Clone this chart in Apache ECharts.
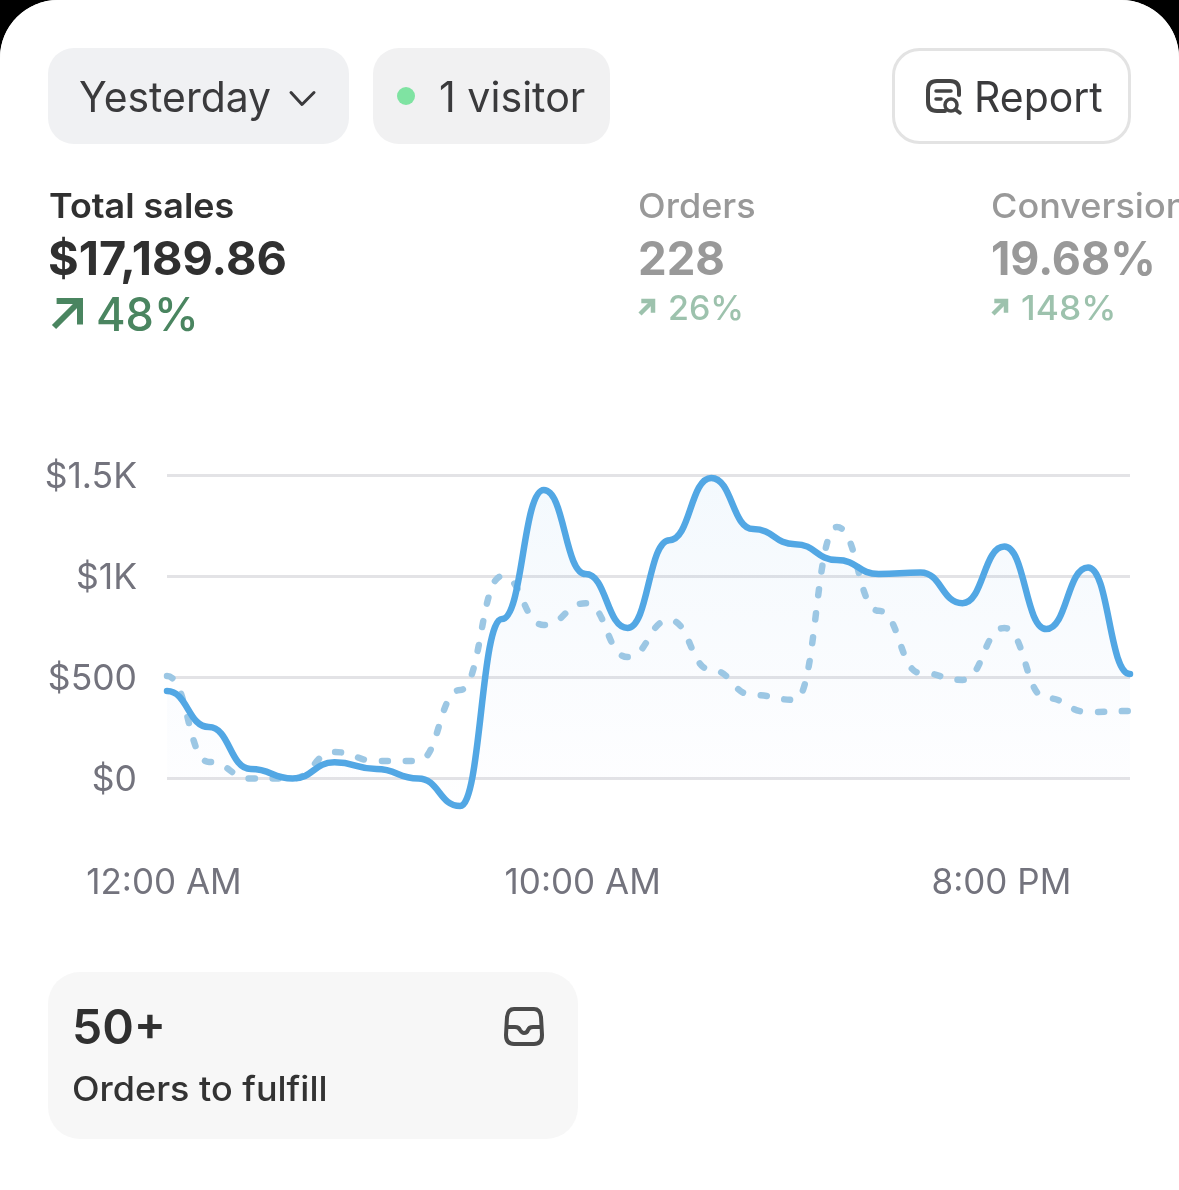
<!DOCTYPE html>
<html>
<head>
<meta charset="utf-8">
<style>
  html, body { margin: 0; padding: 0; background: #000; }
  #main { width: 1179px; height: 1190px; background: #fff; border-radius: 58px 58px 0 0; overflow: hidden; }
</style>
<script src="https://cdn.jsdelivr.net/npm/echarts@6/dist/echarts.min.js"></script>
</head>
<body>
<div id="main"></div>
<script>
// one slot per hour, only every 10th label shows
const hours = ['12:00 AM', '1:00 AM', '2:00 AM', '3:00 AM', '4:00 AM', '5:00 AM', '6:00 AM', '7:00 AM',
  '8:00 AM', '9:00 AM', '10:00 AM', '11:00 AM', '12:00 PM', '1:00 PM', '2:00 PM', '3:00 PM',
  '4:00 PM', '5:00 PM', '6:00 PM', '7:00 PM', '8:00 PM', '9:00 PM', '10:00 PM', '11:00 PM'];
const yesterday = [433, 255, 47, 0, 80, 47, 0, -136, 790, 1428, 1012, 745,
  1180, 1488, 1235, 1160, 1082, 1012, 1020, 868, 1148, 740, 1045, 517];
const previous = [507, 82, 0, 0, 131, 87, 87, 438, 1002, 760, 868, 601,
  785, 537, 413, 389, 1245, 830, 522, 488, 745, 398, 329, 334];
const yTicks = { 0: '$0', 500: '$500', 1000: '$1K', 1500: '$1.5K' };

const FONT = 'Inter, "Noto Sans", sans-serif';
const INK = '#303030';
const GREY = '#999999';
const GREEN = '#4a8560';
const PALE_GREEN = '#9dc2ad';
const AXIS_TEXT = '#73737d';

function txt(text, x, y, size, weight, fill, stretch) {
  return {
    type: 'text', x: x, y: y, scaleX: stretch || 1, silent: true,
    style: { text: text, fontFamily: FONT, fontSize: size, fontWeight: weight, fill: fill, verticalAlign: 'middle', align: 'left' }
  };
}
function box(x, y, w, h, r, fill, stroke) {
  return {
    type: 'rect', silent: true,
    shape: { x: x, y: y, width: w, height: h, r: r },
    style: { fill: fill, stroke: stroke || null, lineWidth: stroke ? 3 : 0 }
  };
}
// the graphic component has no plain path type, so svg icons are registered as shapes
let iconCount = 0;
function stroked(pathData, color, width) {
  const name = 'icon' + (iconCount++);
  echarts.graphic.registerShape(name, echarts.graphic.extendPath(pathData, {}));
  return {
    type: name, silent: true,
    style: { fill: null, stroke: color, lineWidth: width, lineCap: 'round', lineJoin: 'round' }
  };
}
function arrow(x, y, s, color, width) {
  // up-right arrow, s = size
  return {
    type: 'group', silent: true,
    children: [
      { type: 'polyline', shape: { points: [[x + s * 0.1, y], [x + s, y], [x + s, y + s * 0.9]] },
        style: { fill: null, stroke: color, lineWidth: width, lineCap: 'butt', lineJoin: 'miter' } },
      { type: 'line', shape: { x1: x + s, y1: y, x2: x, y2: y + s },
        style: { stroke: color, lineWidth: width, lineCap: 'butt' } }
    ]
  };
}
function line(x1, y1, x2, y2, color, width) {
  return {
    type: 'line', silent: true,
    shape: { x1: x1, y1: y1, x2: x2, y2: y2 },
    style: { stroke: color, lineWidth: width, lineCap: 'round' }
  };
}

// the curve leaves and enters every point level, which the line series smoothing can't do
function curvePath(values, api) {
  let d = '';
  let prev = null;
  values.forEach(function (v, i) {
    const p = api.coord([i, v]);
    if (!prev) {
      d += 'M' + p[0] + ' ' + p[1];
    } else {
      const mid = (prev[0] + p[0]) / 2;
      d += 'C' + mid + ' ' + prev[1] + ' ' + mid + ' ' + p[1] + ' ' + p[0] + ' ' + p[1];
    }
    prev = p;
  });
  return d;
}
function curveSeries(name, values, z, style) {
  return {
    name: name,
    type: 'custom',
    z: z,
    silent: true,
    encode: { x: 0, y: 1 },
    data: values.map(function (v, i) { return [i, v]; }),
    renderItem: function (params, api) {
      if (params.dataIndex !== 0) return null;
      return { type: 'path', shape: { pathData: curvePath(values, api) }, style: style };
    }
  };
}
function areaSeries(name, values, z, fill) {
  return {
    name: name,
    type: 'custom',
    z: z,
    silent: true,
    encode: { x: 0, y: 1 },
    data: values.map(function (v, i) { return [i, v]; }),
    renderItem: function (params, api) {
      if (params.dataIndex !== 0) return null;
      const right = api.coord([values.length - 1, 0]);
      const left = api.coord([0, 0]);
      const d = curvePath(values, api) + 'L' + right[0] + ' ' + right[1] + 'L' + left[0] + ' ' + left[1] + 'Z';
      return { type: 'path', shape: { pathData: d }, style: { fill: fill, stroke: null } };
    }
  };
}

const chart = echarts.init(document.getElementById('main'), null, { renderer: 'canvas' });

const graphics = [
  // top buttons
  box(48, 48, 301, 96, 26, '#f0f1f3'),
  txt('Yesterday', 79, 99, 42, 400, '#3a3a3c', 0.974),
  stroked('M291,92.5 L302,104.5 L314,92.5', '#3a3a3c', 3),
  box(373, 48, 237, 96, 26, '#f1f1f2'),
  { type: 'circle', silent: true, shape: { cx: 406, cy: 96, r: 9 }, style: { fill: '#7fe3a2' } },
  txt('1 visitor', 439, 99, 42, 400, '#3a3a3c', 0.98),
  box(893.5, 49.5, 236, 93, 26, '#fff', '#e3e3e3'),
  stroked('M945,111 L937,111 Q928,111 928,102 L928,90 Q928,81 937,81 L950,81 Q959,81 959,90 L959,95', '#444', 4),
  line(936, 91, 951, 91, '#444', 3.5),
  line(936, 99, 941, 99, '#444', 3.5),
  { type: 'circle', silent: true, shape: { cx: 951, cy: 105, r: 6 }, style: { fill: '#fff', stroke: '#444', lineWidth: 3.5 } },
  line(956, 110, 960, 113, '#444', 3.5),
  txt('Report', 974, 99, 42, 400, '#3a3a3c', 0.975),

  // metrics
  txt('Total sales', 49, 208, 34.5, 600, INK, 1.04),
  txt('$17,189.86', 48, 261, 47, 700, INK, 0.998),
  arrow(54, 301, 26, GREEN, 6),
  txt('48%', 96, 317, 46, 500, GREEN, 0.98),

  txt('Orders', 638, 208, 34, 500, GREY, 1.06),
  txt('228', 638, 261, 46, 700, GREY, 0.99),
  arrow(640, 301, 13, PALE_GREEN, 4.5),
  txt('26%', 668, 310, 34, 500, PALE_GREEN),

  txt('Conversion', 991, 208, 34, 500, GREY, 1.06),
  txt('19.68%', 991, 261, 46, 700, GREY, 0.975),
  arrow(993, 301, 13, PALE_GREEN, 4.5),
  txt('148%', 1021, 310, 34, 500, PALE_GREEN, 1.04),

  // bottom card
  box(48, 972, 530, 167, 32, '#f7f7f7'),
  txt('50+', 72, 1030, 48, 600, INK),
  txt('Orders to fulfill', 72, 1091, 34, 500, '#333', 1.058),
  stroked('M514,1009 L534,1009 Q540,1009 541,1017 L542,1035 Q542,1044 534,1044 L514,1044 Q506,1044 506,1035 L507,1017 Q508,1009 514,1009 Z', '#4a4a4a', 4),
  stroked('M507,1027 L515,1027 Q519,1027 520,1030 Q522,1033 524,1033 Q527,1033 528,1030 Q529,1027 533,1027 L541,1027', '#4a4a4a', 4)
];

chart.setOption({
  animation: false,
  backgroundColor: '#fff',
  textStyle: { fontFamily: FONT },
  graphic: { elements: graphics },
  grid: { left: 167, right: 49, top: 475.5, height: 303 },
  xAxis: {
    type: 'category',
    data: hours,
    boundaryGap: false,
    axisLine: { show: false },
    axisTick: { show: false },
    axisLabel: {
      interval: 9, margin: 87, fontSize: 35, color: AXIS_TEXT, fontFamily: FONT,
      padding: [0, 6, 0, 0], showMinLabel: true, hideOverlap: false
    }
  },
  yAxis: {
    type: 'value',
    min: 0,
    max: 1500,
    interval: 500,
    axisLine: { show: false },
    axisTick: { show: false },
    axisLabel: {
      margin: 30, fontSize: 35.5, color: AXIS_TEXT, fontFamily: FONT,
      formatter: function (v) { return '{t|' + yTicks[v] + '}'; },
      rich: { t: { fontSize: 35.5, color: AXIS_TEXT, fontFamily: FONT, padding: [3, 0, 0, 0] } }
    },
    splitLine: { lineStyle: { color: '#e3e3e6', width: 3 } }
  },
  series: [
    areaSeries('Yesterday area', yesterday, 1, new echarts.graphic.LinearGradient(0, 0, 0, 1, [
      { offset: 0, color: 'rgba(82,167,228,0.065)' },
      { offset: 1, color: 'rgba(82,130,228,0.005)' }
    ])),
    curveSeries('Previous', previous, 2, {
      fill: null, stroke: '#9cc7e4', lineWidth: 6.5, lineDash: [6, 18], lineCap: 'round', lineJoin: 'round'
    }),
    curveSeries('Yesterday', yesterday, 3, {
      fill: null, stroke: '#52a7e4', lineWidth: 6.5, lineCap: 'round', lineJoin: 'round'
    })
  ]
});
</script>
</body>
</html>
